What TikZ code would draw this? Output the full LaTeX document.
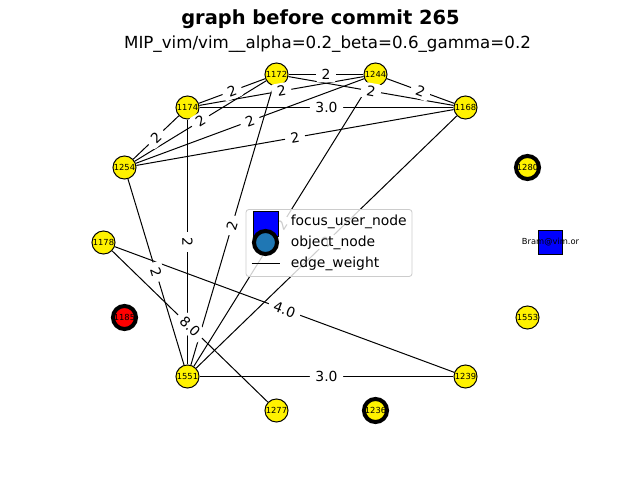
\documentclass[tikz,border=0pt]{standalone}
\usepackage{fontspec}
\setmainfont{DejaVu Sans}
\definecolor{tabblue}{HTML}{1F77B4}
\tikzset{
  obj/.style={circle, draw, line width=0.72pt, fill=yellow, minimum size=16.6pt, inner sep=0pt, font=\fontsize{6}{7}\selectfont},
  heavy/.style={obj, line width=2.9pt},
  focus/.style={rectangle, draw, line width=0.72pt, fill=blue, minimum size=17.3pt, inner sep=0pt},
  link/.style={line width=0.72pt},
  elabel/.style={midway, sloped, fill=white, rounded corners=2pt, inner sep=2pt, inner xsep=4pt, font=\fontsize{10}{12}\selectfont},
  legtext/.style={anchor=west, inner sep=0pt, font=\fontsize{10}{12}\selectfont}
}
\def\edgelist{1172/1244/2, 1174/1172/2, 1174/1168/3.0, 1172/1168/2, 1244/1168/2,
  1174/1244/2, 1254/1172/2, 1254/1174/2, 1254/1244/2, 1254/1168/2,
  1174/1551/2, 1172/1551/2, 1244/1551/2, 1168/1551/2, 1254/1551/2,
  1178/1239/4.0, 1178/1277/8.0, 1551/1239/3.0}
\begin{document}
\begin{tikzpicture}[x=0.72pt, y=-0.72pt]
      \useasboundingbox (-0.5,-0.5) rectangle (639.5,479.5);

      \node[font=\bfseries\fontsize{14}{17}\selectfont] (title) at (320,19) {graph before commit 265};
      \node[font=\fontsize{12}{14}\selectfont] (subtitle) at (327,44) {MIP\_vim/vim\_\_alpha=0.2\_beta=0.6\_gamma=0.2};

      \node[obj]   (n1172) at (276,74)  {1172};
      \node[obj]   (n1244) at (375,74)  {1244};
      \node[obj]   (n1174) at (187,107) {1174};
      \node[obj]   (n1168) at (465,107) {1168};
      \node[obj]   (n1254) at (124,167) {1254};
      \node[heavy] (n1280) at (527,167) {1280};
      \node[obj]   (n1178) at (103,242) {1178};
      \node[focus, label={[font=\fontsize{6}{7}\selectfont]center:Bram@vim.or}] (bram) at (550,242) {};
      \node[heavy, fill=red] (n1185) at (124,317) {1185};
      \node[obj]   (n1553) at (527,317) {1553};
      \node[obj]   (n1551) at (187,376) {1551};
      \node[obj]   (n1239) at (465,376) {1239};
      \node[obj]   (n1277) at (276,410) {1277};
      \node[heavy] (n1236) at (375,410) {1236};

      \foreach \a/\b/\w in \edgelist
        \draw[link] (n\a) -- (n\b);
      \foreach \a/\b/\w in \edgelist
        \path (n\a) -- node[elabel] {\w} (n\b);

      \node[draw=black!20, line width=0.6pt, rounded corners=2pt, fill=white, fill opacity=0.8,
            minimum width=119.5pt, minimum height=48.2pt] (legend) at (328.5,242.5) {};
      \node[focus, minimum size=18pt] (legsq) at (265,223) {};
      \node[heavy, fill=tabblue] (legci) at (265,242) {};
      \coordinate (legla) at (251,263);
      \coordinate (leglb) at (279,263);
      \draw[link] (legla) -- (leglb);
      \node[legtext] (legfocus) at (290,221) {focus\_user\_node};
      \node[legtext] (legobj)   at (290,242) {object\_node};
      \node[legtext] (legedge)  at (290,263) {edge\_weight};
    \end{tikzpicture}
\end{document}
